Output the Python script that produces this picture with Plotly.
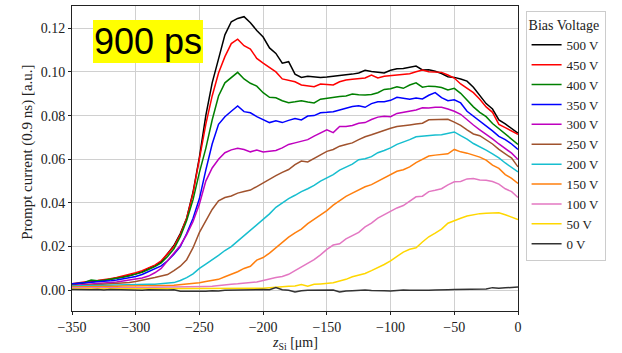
import plotly.graph_objects as go

# Scan position along the silicon depth (µm), 5 µm steps
z_um = list(range(-350, 1, 5))

bias_labels = ["500 V", "450 V", "400 V", "350 V", "300 V", "250 V",
               "200 V", "150 V", "100 V", "50 V", "0 V"]
bias_colors = ["#000000", "#ff0000", "#008000", "#0000ff", "#bf00bf", "#a0522d",
               "#17becf", "#ff7f0e", "#e377c2", "#ffd700", "#333333"]

# Prompt current (0.9 ns integration) per bias voltage, arbitrary units
i_500 = [0.0025, 0.0030, 0.0035, 0.0040, 0.0042, 0.0045, 0.0050, 0.0055, 0.0062, 0.0068,
         0.0075, 0.0085, 0.0100, 0.0112, 0.0130, 0.0165, 0.0205, 0.0260, 0.0330, 0.0450,
         0.0610, 0.0800, 0.0950, 0.1060, 0.1170, 0.1230, 0.1245, 0.1253, 0.1225, 0.1190,
         0.1160, 0.1110, 0.1085, 0.1040, 0.1047, 0.0990, 0.0975, 0.0980, 0.0976, 0.0975,
         0.0977, 0.0980, 0.0982, 0.0985, 0.0990, 0.0995, 0.1008, 0.1002, 0.1000, 0.0995,
         0.1008, 0.1015, 0.1016, 0.1020, 0.1027, 0.1009, 0.1010, 0.1003, 0.0993, 0.0978,
         0.0975, 0.0968, 0.0958, 0.0930, 0.0890, 0.0855, 0.0830, 0.0780, 0.0762, 0.0740,
         0.0720]
i_450 = [0.0030, 0.0035, 0.0040, 0.0042, 0.0045, 0.0048, 0.0053, 0.0058, 0.0065, 0.0072,
         0.0080, 0.0090, 0.0103, 0.0115, 0.0135, 0.0168, 0.0200, 0.0255, 0.0330, 0.0445,
         0.0600, 0.0760, 0.0890, 0.0995, 0.1070, 0.1130, 0.1150, 0.1120, 0.1105, 0.1062,
         0.1040, 0.1020, 0.1000, 0.0968, 0.0962, 0.0955, 0.0940, 0.0937, 0.0932, 0.0945,
         0.0944, 0.0940, 0.0955, 0.0963, 0.0966, 0.0968, 0.0972, 0.0986, 0.0972, 0.0980,
         0.0983, 0.0986, 0.0990, 0.0992, 0.1001, 0.1009, 0.1001, 0.1000, 0.0998, 0.0986,
         0.0972, 0.0945, 0.0925, 0.0905, 0.0875, 0.0840, 0.0815, 0.0760, 0.0745, 0.0728,
         0.0714]
i_400 = [0.0028, 0.0032, 0.0036, 0.0047, 0.0044, 0.0046, 0.0050, 0.0055, 0.0060, 0.0066,
         0.0073, 0.0082, 0.0095, 0.0108, 0.0125, 0.0155, 0.0190, 0.0245, 0.0320, 0.0415,
         0.0540, 0.0650, 0.0780, 0.0890, 0.0950, 0.0975, 0.0998, 0.0968, 0.0948, 0.0935,
         0.0905, 0.0884, 0.0882, 0.0868, 0.0859, 0.0863, 0.0868, 0.0862, 0.0858, 0.0875,
         0.0880, 0.0886, 0.0888, 0.0890, 0.0899, 0.0895, 0.0894, 0.0897, 0.0905, 0.0920,
         0.0923, 0.0932, 0.0925, 0.0940, 0.0950, 0.0930, 0.0935, 0.0933, 0.0929, 0.0917,
         0.0925, 0.0902, 0.0871, 0.0840, 0.0815, 0.0795, 0.0764, 0.0740, 0.0712, 0.0690,
         0.0668]
i_350 = [0.0030, 0.0032, 0.0033, 0.0035, 0.0037, 0.0040, 0.0043, 0.0047, 0.0052, 0.0058,
         0.0063, 0.0072, 0.0085, 0.0098, 0.0112, 0.0135, 0.0165, 0.0200, 0.0260, 0.0330,
         0.0420, 0.0550, 0.0670, 0.0760, 0.0795, 0.0820, 0.0844, 0.0818, 0.0813, 0.0795,
         0.0783, 0.0768, 0.0776, 0.0768, 0.0778, 0.0787, 0.0780, 0.0798, 0.0800, 0.0813,
         0.0815, 0.0818, 0.0826, 0.0835, 0.0842, 0.0845, 0.0838, 0.0855, 0.0863, 0.0863,
         0.0870, 0.0884, 0.0879, 0.0875, 0.0880, 0.0876, 0.0893, 0.0905, 0.0882, 0.0868,
         0.0872, 0.0858, 0.0820, 0.0798, 0.0775, 0.0750, 0.0730, 0.0705, 0.0690, 0.0670,
         0.0645]
i_300 = [0.0022, 0.0024, 0.0025, 0.0027, 0.0028, 0.0031, 0.0035, 0.0038, 0.0042, 0.0048,
         0.0052, 0.0056, 0.0065, 0.0080, 0.0100, 0.0135, 0.0170, 0.0205, 0.0255, 0.0315,
         0.0395, 0.0500, 0.0560, 0.0600, 0.0630, 0.0643, 0.0650, 0.0645, 0.0634, 0.0642,
         0.0633, 0.0636, 0.0640, 0.0652, 0.0668, 0.0675, 0.0682, 0.0690, 0.0706, 0.0722,
         0.0735, 0.0722, 0.0750, 0.0750, 0.0755, 0.0765, 0.0768, 0.0782, 0.0793, 0.0797,
         0.0795, 0.0810, 0.0815, 0.0822, 0.0826, 0.0836, 0.0835, 0.0838, 0.0838, 0.0830,
         0.0820, 0.0806, 0.0780, 0.0757, 0.0735, 0.0716, 0.0693, 0.0670, 0.0650, 0.0628,
         0.0599]
i_250 = [0.0018, 0.0020, 0.0021, 0.0022, 0.0024, 0.0026, 0.0028, 0.0030, 0.0033, 0.0036,
         0.0040, 0.0045, 0.0050, 0.0058, 0.0065, 0.0072, 0.0090, 0.0110, 0.0140, 0.0195,
         0.0265, 0.0320, 0.0370, 0.0410, 0.0425, 0.0432, 0.0445, 0.0452, 0.0459, 0.0475,
         0.0492, 0.0510, 0.0525, 0.0540, 0.0553, 0.0575, 0.0592, 0.0588, 0.0605, 0.0622,
         0.0636, 0.0645, 0.0660, 0.0668, 0.0675, 0.0690, 0.0703, 0.0712, 0.0722, 0.0734,
         0.0742, 0.0750, 0.0752, 0.0757, 0.0761, 0.0765, 0.0781, 0.0781, 0.0780, 0.0783,
         0.0770, 0.0755, 0.0735, 0.0716, 0.0708, 0.0690, 0.0670, 0.0645, 0.0625, 0.0605,
         0.0565]
i_200 = [0.0020, 0.0020, 0.0021, 0.0021, 0.0022, 0.0022, 0.0023, 0.0024, 0.0024, 0.0025,
         0.0025, 0.0026, 0.0027, 0.0028, 0.0030, 0.0031, 0.0035, 0.0045, 0.0058, 0.0075,
         0.0100, 0.0120, 0.0138, 0.0160, 0.0182, 0.0200, 0.0225, 0.0250, 0.0275, 0.0300,
         0.0325, 0.0350, 0.0380, 0.0400, 0.0420, 0.0435, 0.0452, 0.0465, 0.0480, 0.0500,
         0.0515, 0.0530, 0.0550, 0.0565, 0.0578, 0.0598, 0.0602, 0.0612, 0.0630, 0.0640,
         0.0652, 0.0668, 0.0678, 0.0690, 0.0703, 0.0706, 0.0710, 0.0711, 0.0712, 0.0720,
         0.0725, 0.0708, 0.0692, 0.0672, 0.0658, 0.0642, 0.0625, 0.0606, 0.0583, 0.0562,
         0.0542]
i_150 = [0.0015, 0.0015, 0.0016, 0.0016, 0.0017, 0.0017, 0.0018, 0.0018, 0.0019, 0.0019,
         0.0020, 0.0020, 0.0021, 0.0021, 0.0022, 0.0022, 0.0023, 0.0025, 0.0028, 0.0031,
         0.0034, 0.0040, 0.0045, 0.0050, 0.0062, 0.0072, 0.0085, 0.0100, 0.0110, 0.0138,
         0.0150, 0.0170, 0.0195, 0.0220, 0.0243, 0.0263, 0.0280, 0.0305, 0.0325, 0.0345,
         0.0365, 0.0390, 0.0412, 0.0430, 0.0445, 0.0460, 0.0474, 0.0484, 0.0500, 0.0515,
         0.0530, 0.0545, 0.0552, 0.0565, 0.0585, 0.0599, 0.0615, 0.0619, 0.0621, 0.0625,
         0.0645, 0.0634, 0.0628, 0.0620, 0.0610, 0.0596, 0.0573, 0.0558, 0.0530, 0.0512,
         0.0489]
i_100 = [0.0010, 0.0010, 0.0011, 0.0011, 0.0011, 0.0012, 0.0012, 0.0012, 0.0012, 0.0013,
         0.0013, 0.0013, 0.0013, 0.0014, 0.0014, 0.0014, 0.0014, 0.0015, 0.0015, 0.0015,
         0.0016, 0.0017, 0.0018, 0.0022, 0.0025, 0.0028, 0.0030, 0.0033, 0.0036, 0.0038,
         0.0045, 0.0053, 0.0058, 0.0063, 0.0073, 0.0090, 0.0107, 0.0122, 0.0140, 0.0162,
         0.0187, 0.0207, 0.0213, 0.0235, 0.0250, 0.0265, 0.0290, 0.0308, 0.0330, 0.0346,
         0.0360, 0.0377, 0.0388, 0.0410, 0.0428, 0.0431, 0.0452, 0.0458, 0.0465, 0.0483,
         0.0497, 0.0498, 0.0510, 0.0512, 0.0505, 0.0504, 0.0498, 0.0486, 0.0465, 0.0452,
         0.0425]
i_50 = [0.0006, 0.0006, 0.0007, 0.0006, 0.0007, 0.0007, 0.0006, 0.0007, 0.0008, 0.0007,
        0.0007, 0.0008, 0.0007, 0.0008, 0.0008, 0.0007, 0.0008, 0.0008, 0.0008, 0.0007,
        0.0008, 0.0008, 0.0009, 0.0008, 0.0008, 0.0009, 0.0008, 0.0009, 0.0009, 0.0009,
        0.0009, 0.0012, 0.0013, 0.0016, 0.0018, 0.0020, 0.0026, 0.0019, 0.0027, 0.0029,
        0.0031, 0.0034, 0.0042, 0.0050, 0.0062, 0.0070, 0.0077, 0.0090, 0.0103, 0.0118,
        0.0135, 0.0156, 0.0175, 0.0188, 0.0195, 0.0221, 0.0245, 0.0262, 0.0280, 0.0307,
        0.0320, 0.0330, 0.0340, 0.0347, 0.0351, 0.0353, 0.0354, 0.0355, 0.0346, 0.0336,
        0.0324]
i_0 = [0.0004, 0.0003, 0.0005, 0.0002, 0.0004, 0.0001, 0.0003, 0.0002, 0.0001, 0.0003,
       0.0002, 0.0000, 0.0002, 0.0001, 0.0003, 0.0001, 0.0002, -0.0005, -0.0004, -0.0005,
       -0.0003, -0.0004, -0.0002, -0.0003, 0.0000, 0.0001, 0.0000, 0.0002, 0.0001, 0.0005,
       0.0003, 0.0002, 0.0012, 0.0002, 0.0000, -0.0008, -0.0002, 0.0000, 0.0001, 0.0000,
       0.0000, 0.0001, -0.0008, -0.0003, -0.0002, 0.0000, 0.0001, -0.0001, 0.0000, -0.0002,
       -0.0003, 0.0000, 0.0001, 0.0000, -0.0001, -0.0002, 0.0000, 0.0001, 0.0003, 0.0002,
       0.0003, 0.0004, 0.0006, 0.0005, 0.0007, 0.0006, 0.0012, 0.0009, 0.0011, 0.0013,
       0.0015]

series = [i_500, i_450, i_400, i_350, i_300, i_250, i_200, i_150, i_100, i_50, i_0]

x_ticks = [-350, -300, -250, -200, -150, -100, -50, 0]
x_ticktext = ["\u2212350", "\u2212300", "\u2212250", "\u2212200",
              "\u2212150", "\u2212100", "\u221250", "0"]
y_ticks = [0.00, 0.02, 0.04, 0.06, 0.08, 0.10, 0.12]

serif = "Liberation Serif"
ink = "#222222"

fig = go.Figure()
for label, color, values in zip(bias_labels, bias_colors, series):
    fig.add_trace(go.Scatter(
        x=z_um, y=values, mode="lines", name=label,
        line=dict(color=color, width=1.5),
    ))

axis_common = dict(
    showline=True, linecolor=ink, linewidth=1, mirror=True,
    showgrid=True, gridcolor="#d0d0d0", gridwidth=1,
    ticks="outside", ticklen=3, tickcolor=ink,
    tickfont=dict(family=serif, size=14, color=ink),
    zeroline=False, automargin=False,
)

fig.update_xaxes(range=[-350, 0], tickvals=x_ticks, ticktext=x_ticktext, **axis_common)
fig.update_yaxes(range=[-0.0095, 0.1302], tickvals=y_ticks, tickformat=".2f", **axis_common)

# Axis titles placed as free text so their positions stay fixed
fig.add_annotation(
    xref="paper", yref="paper", x=0.5, y=-0.106,
    text="<i>z</i><sub>Si</sub> [μm]", showarrow=False,
    font=dict(family=serif, size=14, color=ink),
    xanchor="center", yanchor="middle",
)
fig.add_annotation(
    xref="paper", yref="paper", x=-0.1, y=0.52,
    text="Prompt current (0.9 ns) [a.u.]", showarrow=False, textangle=-90,
    font=dict(family=serif, size=15, color=ink),
    xanchor="center", yanchor="middle",
)

fig.add_annotation(
    xref="paper", yref="paper", x=0.1695, y=0.885,
    text="900 ps", showarrow=False,
    font=dict(family="Liberation Sans", size=36, color="black"),
    bgcolor="#ffff00", borderpad=1, borderwidth=0,
    xanchor="center", yanchor="middle",
)

fig.update_layout(
    width=622, height=353,
    margin=dict(l=72, r=104, t=6, b=42),
    paper_bgcolor="white", plot_bgcolor="white",
    showlegend=True,
    legend=dict(
        title=dict(text="Bias Voltage", font=dict(family=serif, size=14, color=ink)),
        font=dict(family=serif, size=13, color=ink),
        x=1.017, y=0.985, xanchor="left", yanchor="top",
        bgcolor="white", bordercolor="#cccccc", borderwidth=1,
        itemwidth=30, tracegroupgap=0,
    ),
)

fig.write_html("out.html")
